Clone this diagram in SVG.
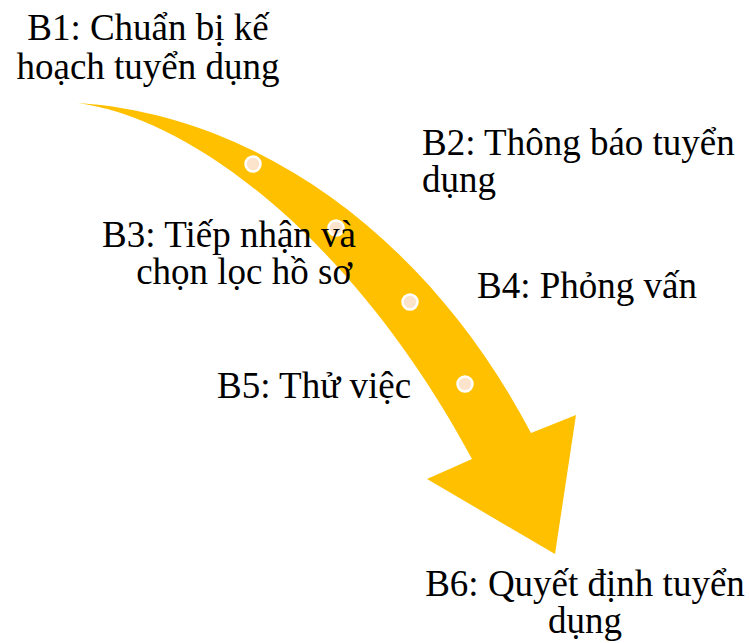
<svg xmlns="http://www.w3.org/2000/svg" width="749" height="643" viewBox="0 0 749 643">
  <style>
    .lbl { font-family: "Liberation Serif", "Times New Roman", serif; font-size: 37px; fill: #000; }
    .mid { text-anchor: middle; }
    .end { text-anchor: end; }
    .arrow { fill: #FFC000; }
    .dot { fill: #FCE4CC; stroke: #FFFFFF; stroke-width: 2.5; }
  </style>

  <!-- curved process arrow -->
  <g id="arrow">
    <path class="arrow" d="M78,103 C260,115 430,240 531,433 L576,415 L555,554 L427,479 L472,459 C360,250 200,120 78,103 Z"/>
    <circle class="dot" cx="253" cy="164" r="7.5"/>
    <circle class="dot" cx="336" cy="228" r="7.5"/>
    <circle class="dot" cx="410" cy="302" r="7.5"/>
    <circle class="dot" cx="465" cy="384" r="7.5"/>
  </g>

  <g id="b1">
    <text class="lbl mid" x="148" y="40">B1: Chuẩn bị kế</text>
    <text class="lbl mid" x="148" y="79">hoạch tuyển dụng</text>
  </g>
  <g id="b2">
    <text class="lbl" x="422" y="155">B2: Thông báo tuyển</text>
    <text class="lbl" x="422" y="192">dụng</text>
  </g>
  <g id="b3">
    <text class="lbl end" x="356" y="247">B3: Tiếp nhận và</text>
    <text class="lbl end" x="352" y="284">chọn lọc hồ sơ</text>
  </g>
  <g id="b4">
    <text class="lbl" x="477" y="298">B4: Phỏng vấn</text>
  </g>
  <g id="b5">
    <text class="lbl" x="217" y="398">B5: Thử việc</text>
  </g>
  <g id="b6">
    <text class="lbl mid" x="585" y="596">B6: Quyết định tuyển</text>
    <text class="lbl mid" x="585" y="633">dụng</text>
  </g>
</svg>
